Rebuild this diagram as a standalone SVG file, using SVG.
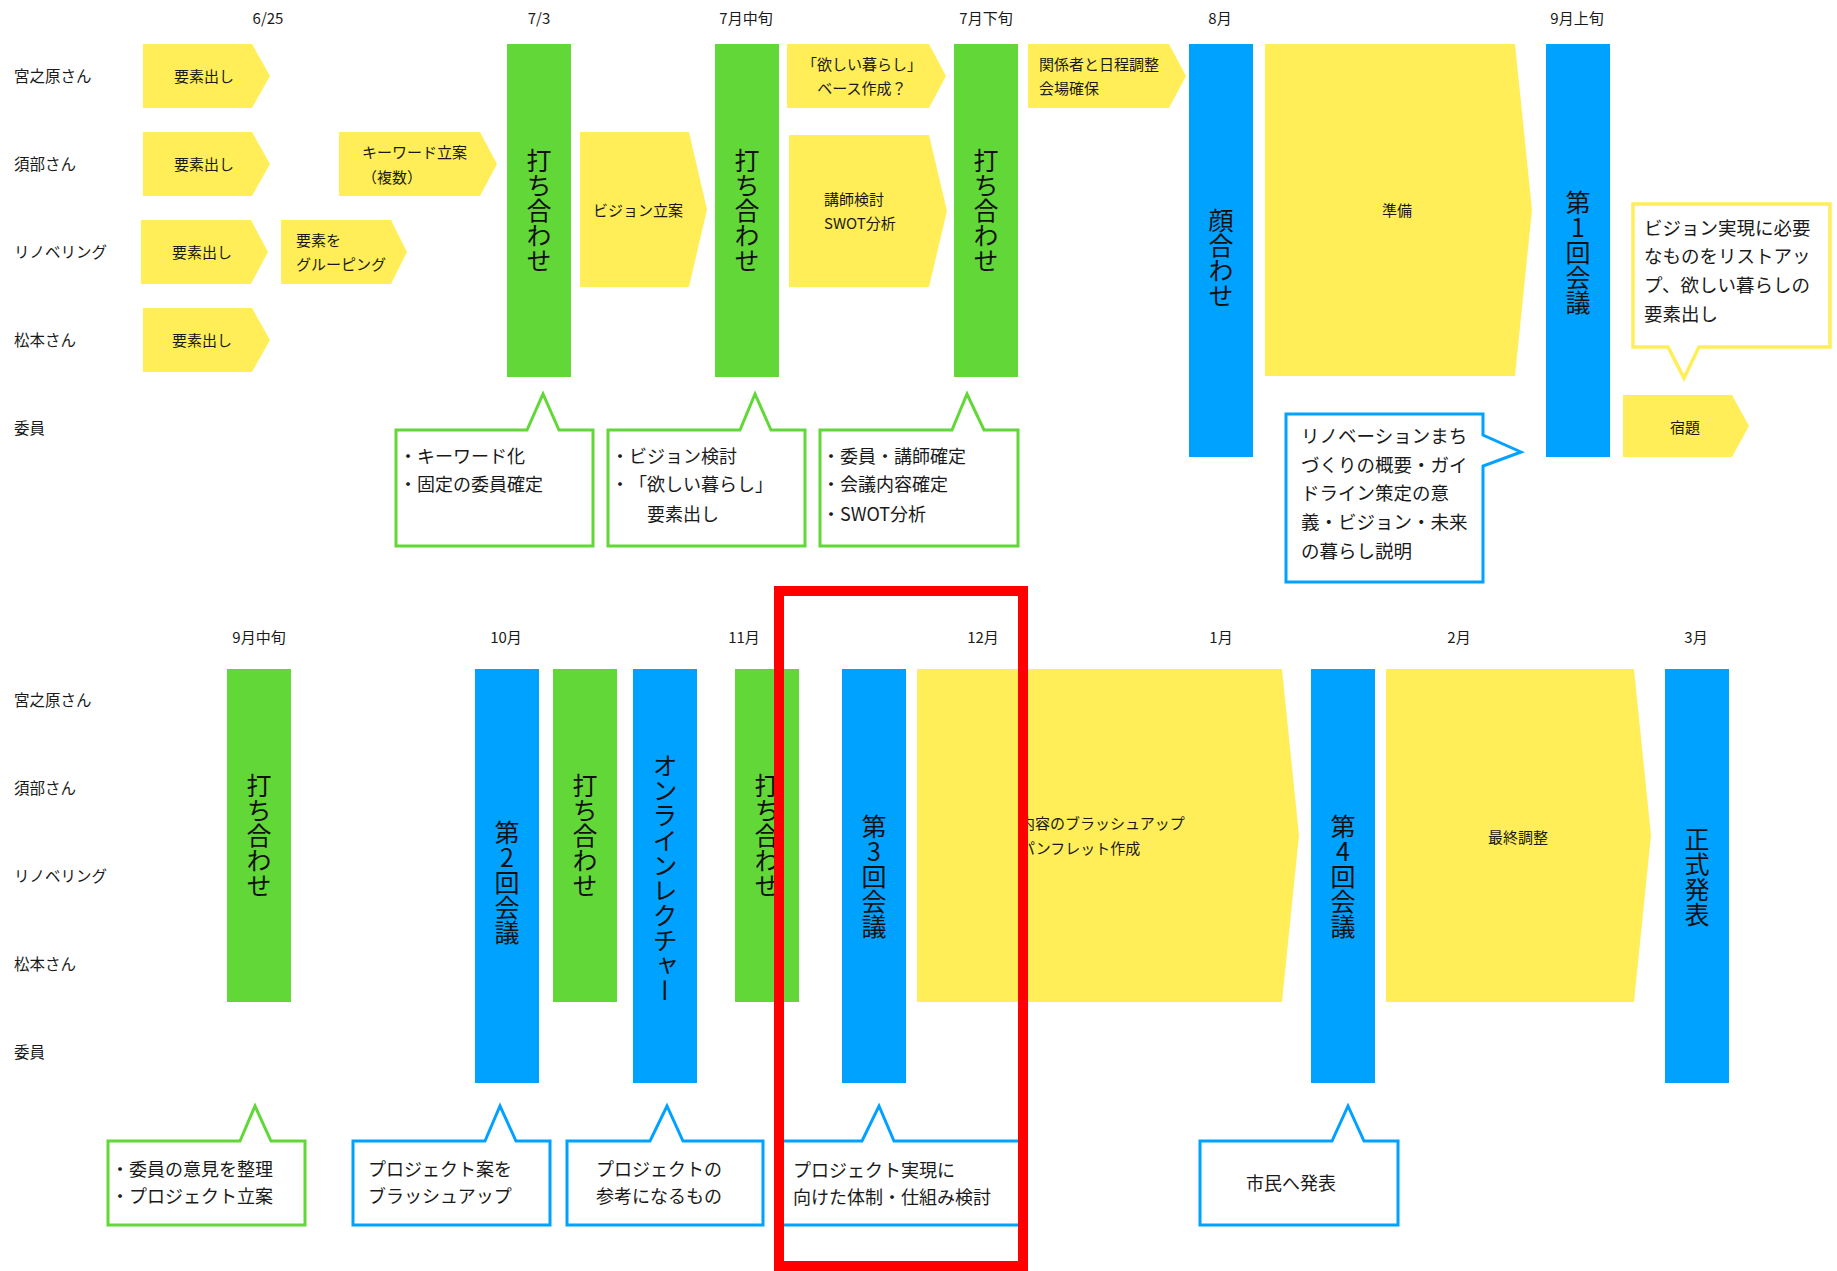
<svg xmlns="http://www.w3.org/2000/svg" width="1837" height="1271" viewBox="0 0 1837 1271">
<style>
text{font-family:"Noto Sans CJK JP","Noto Sans CJK SC",sans-serif;fill:#1a1a1a;text-spacing-trim:space-all}
.hd{font-size:15px;text-anchor:middle}
.lb{font-size:15.5px}
.at{font-size:15px}
.mid{text-anchor:middle}
.ct{font-size:18px}
.ct2{font-size:18.5px}
.vt{font-size:25px;writing-mode:vertical-rl;text-orientation:upright;text-anchor:middle;fill:#111}
.ya{fill:#FFEE58}
.gb{fill:#62D838}
.bb{fill:#00A2FF}
.cg{fill:#fff;stroke:#62D838;stroke-width:3}
.cb{fill:#fff;stroke:#00A2FF;stroke-width:3}
.cy{fill:#fff;stroke:#FFEE58;stroke-width:3.5}
</style>
<rect width="1837" height="1271" fill="#fff"/>

<g id="headers">
<text class="hd" x="268" y="24">6/25</text>
<text class="hd" x="539" y="24">7/3</text>
<text class="hd" x="746" y="24">7月中旬</text>
<text class="hd" x="986" y="24">7月下旬</text>
<text class="hd" x="1220" y="24">8月</text>
<text class="hd" x="1577" y="24">9月上旬</text>
<text class="hd" x="259" y="643">9月中旬</text>
<text class="hd" x="506" y="643">10月</text>
<text class="hd" x="744" y="643">11月</text>
<text class="hd" x="983" y="643">12月</text>
<text class="hd" x="1221" y="643">1月</text>
<text class="hd" x="1459" y="643">2月</text>
<text class="hd" x="1696" y="643">3月</text>
</g>

<g id="row-labels">
<text class="lb" x="14" y="82">宮之原さん</text>
<text class="lb" x="14" y="170">須部さん</text>
<text class="lb" x="14" y="258">リノベリング</text>
<text class="lb" x="14" y="346">松本さん</text>
<text class="lb" x="14" y="434">委員</text>
<text class="lb" x="14" y="706">宮之原さん</text>
<text class="lb" x="14" y="794">須部さん</text>
<text class="lb" x="14" y="882">リノベリング</text>
<text class="lb" x="14" y="970">松本さん</text>
<text class="lb" x="14" y="1058">委員</text>
</g>

<g id="n-youso1"><path class="ya" d="M143,44H252L270,76L252,108H143Z"/><text class="at mid" x="204" y="82">要素出し</text></g>
<g id="n-youso2"><path class="ya" d="M143,132H252L270,164L252,196H143Z"/><text class="at mid" x="204" y="170">要素出し</text></g>
<g id="n-youso3"><path class="ya" d="M141,220H251L268,252L251,284H141Z"/><text class="at mid" x="202" y="258">要素出し</text></g>
<g id="n-youso4"><path class="ya" d="M143,308H252L270,340L252,372H143Z"/><text class="at mid" x="202" y="346">要素出し</text></g>
<g id="n-keyword"><path class="ya" d="M339,132H480L497,164L480,196H339Z"/><text class="at" x="362" y="158">キーワード立案</text><text class="at" x="362" y="183">（複数）</text></g>
<g id="n-grouping"><path class="ya" d="M281,220H391L407,252L391,284H281Z"/><text class="at" x="296" y="246">要素を</text><text class="at" x="296" y="270">グルーピング</text></g>
<g id="n-mtg1"><rect class="gb" x="507" y="44" width="64" height="333"/><text class="vt" x="539" y="210">打ち合わせ</text></g>
<g id="n-vision"><path class="ya" d="M580,132H689L707,209.5L689,287H580Z"/><text class="at mid" x="638" y="216">ビジョン立案</text></g>
<g id="n-mtg2"><rect class="gb" x="715" y="44" width="64" height="333"/><text class="vt" x="747" y="210">打ち合わせ</text></g>
<g id="n-kurashi"><path class="ya" d="M787,44H929L946,76L929,108H787Z"/><text class="at mid" x="862" y="70">「欲しい暮らし」</text><text class="at mid" x="862" y="94">ベース作成？</text></g>
<g id="n-koushi"><path class="ya" d="M789,135H929L947,211L929,287H789Z"/><text class="at" x="824" y="205">講師検討</text><text class="at" x="824" y="229">SWOT分析</text></g>
<g id="n-mtg3"><rect class="gb" x="954" y="44" width="64" height="333"/><text class="vt" x="986" y="210">打ち合わせ</text></g>
<g id="n-kankei"><path class="ya" d="M1028,44H1169L1186,76L1169,108H1028Z"/><text class="at" x="1039" y="70">関係者と日程調整</text><text class="at" x="1039" y="94">会場確保</text></g>
<g id="n-kaoawase"><rect class="bb" x="1189" y="44" width="64" height="413"/><text class="vt" x="1221" y="258">顔合わせ</text></g>
<g id="n-junbi"><path class="ya" d="M1265,44H1515L1532,210L1515,376H1265Z"/><text class="at mid" x="1397" y="216">準備</text></g>
<g id="n-kaigi1"><rect class="bb" x="1546" y="44" width="64" height="413"/><text class="vt" x="1578" y="252">第1回会議</text></g>
<g id="n-shukudai"><path class="ya" d="M1623,395H1732L1749,426L1732,457H1623Z"/><text class="at mid" x="1685" y="433">宿題</text></g>

<g id="c-yellow"><path class="cy" d="M1633,204H1830V347H1699L1684,378L1668,347H1633Z"/>
<text class="ct2" x="1644" y="235">ビジョン実現に必要</text>
<text class="ct2" x="1644" y="263">なものをリストアッ</text>
<text class="ct2" x="1644" y="292">プ、欲しい暮らしの</text>
<text class="ct2" x="1644" y="321">要素出し</text></g>
<g id="c-blue-top"><path class="cb" d="M1286,414H1483V435L1521,452L1483,466V582H1286Z"/>
<text class="ct2" x="1301" y="443">リノベーションまち</text>
<text class="ct2" x="1301" y="472">づくりの概要・ガイ</text>
<text class="ct2" x="1301" y="500">ドライン策定の意</text>
<text class="ct2" x="1301" y="529">義・ビジョン・未来</text>
<text class="ct2" x="1301" y="558">の暮らし説明</text></g>

<g id="c-green1"><path class="cg" d="M396,430H527L543,394L559,430H593V546H396Z"/>
<text class="ct" x="399" y="463">・キーワード化</text>
<text class="ct" x="399" y="491">・固定の委員確定</text></g>
<g id="c-green2"><path class="cg" d="M608,430H740L755,394L771,430H805V546H608Z"/>
<text class="ct" x="611" y="463">・ビジョン検討</text>
<text class="ct" x="611" y="491">・「欲しい暮らし」</text>
<text class="ct" x="647" y="521">要素出し</text></g>
<g id="c-green3"><path class="cg" d="M820,430H952L967,394L984,430H1018V546H820Z"/>
<text class="ct" x="822" y="463">・委員・講師確定</text>
<text class="ct" x="822" y="491">・会議内容確定</text>
<text class="ct" x="822" y="521">・SWOT分析</text></g>

<g id="n-mtg4"><rect class="gb" x="227" y="669" width="64" height="333"/><text class="vt" x="259" y="835">打ち合わせ</text></g>
<g id="n-kaigi2"><rect class="bb" x="475" y="669" width="64" height="414"/><text class="vt" x="507" y="882">第2回会議</text></g>
<g id="n-mtg5"><rect class="gb" x="553" y="669" width="64" height="333"/><text class="vt" x="585" y="835">打ち合わせ</text></g>
<g id="n-lecture"><rect class="bb" x="633" y="669" width="64" height="414"/><text class="vt" x="665" y="878">オンラインレクチャー</text></g>
<g id="n-mtg6"><rect class="gb" x="735" y="669" width="64" height="333"/><text class="vt" x="767" y="835">打ち合わせ</text></g>
<g id="n-kaigi3"><rect class="bb" x="842" y="669" width="64" height="414"/><text class="vt" x="874" y="876">第3回会議</text></g>
<g id="n-brushup"><path class="ya" d="M917,669H1282L1299,835.5L1282,1002H917Z"/><text class="at" x="1020" y="829">内容のブラッシュアップ</text><text class="at" x="1020" y="854">パンフレット作成</text></g>
<g id="n-kaigi4"><rect class="bb" x="1311" y="669" width="64" height="414"/><text class="vt" x="1343" y="876">第4回会議</text></g>
<g id="n-final"><path class="ya" d="M1386,669H1634L1651,835.5L1634,1002H1386Z"/><text class="at mid" x="1518" y="843">最終調整</text></g>
<g id="n-happyo"><rect class="bb" x="1665" y="669" width="64" height="414"/><text class="vt" x="1697" y="877">正式発表</text></g>

<g id="c-b1"><path class="cg" d="M108,1141H240L255,1106L271,1141H305V1225H108Z"/>
<text class="ct" x="111" y="1176">・委員の意見を整理</text>
<text class="ct" x="111" y="1203">・プロジェクト立案</text></g>
<g id="c-b2"><path class="cb" d="M353,1141H485L500,1106L516,1141H550V1225H353Z"/>
<text class="ct" x="368" y="1176">プロジェクト案を</text>
<text class="ct" x="368" y="1203">ブラッシュアップ</text></g>
<g id="c-b3"><path class="cb" d="M567,1141H650L667,1106L683,1141H763V1225H567Z"/>
<text class="ct" x="596" y="1176">プロジェクトの</text>
<text class="ct" x="596" y="1203">参考になるもの</text></g>
<g id="c-b4"><path class="cb" d="M780,1141H862L879,1106L894,1141H1020V1225H780Z"/>
<text class="ct" x="793" y="1177">プロジェクト実現に</text>
<text class="ct" x="793" y="1204">向けた体制・仕組み検討</text></g>
<g id="c-b5"><path class="cb" d="M1200,1141H1332L1348,1106L1364,1141H1398V1225H1200Z"/>
<text class="ct mid" x="1291" y="1190">市民へ発表</text></g>

<g id="connectors"></g>

<g id="highlight"><rect x="779" y="591" width="244" height="675" fill="none" stroke="#FF0000" stroke-width="10"/></g>
</svg>
